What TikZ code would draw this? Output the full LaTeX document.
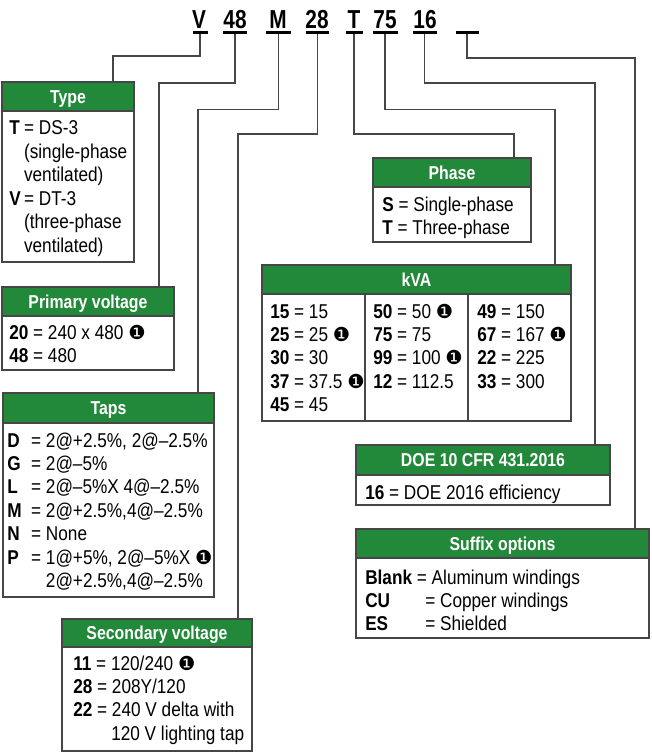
\documentclass[tikz,border=0pt]{standalone}
\usepackage{fontspec}
\setmainfont{Liberation Sans}[FakeStretch=0.86]
\newfontfamily\hdrfont{Liberation Sans}[FakeStretch=0.85]
\newfontfamily\codefont{Liberation Sans}[FakeStretch=0.8]
\newfontfamily\symfont{DejaVu Sans}
\usetikzlibrary{calc}
\definecolor{hdrgreen}{RGB}{34,137,58}
\definecolor{edge}{RGB}{70,70,70}
\def\pxu{0.75pt}
\newcommand\one{{\symfont\fontsize{14.5}{14.5}\selectfont ❶}}
\newcommand\bodyfont{\fontsize{15}{17.6}\selectfont}
\newcommand\mybox[7]{%
  \node[frame, minimum width={(#4-#2)*\pxu}, minimum height={(#5-#3)*\pxu}] (#1) at (#2,#3) {};
  \node[hdr, minimum width={(#4-#2)*\pxu}, minimum height={(#6-#3)*\pxu}] (#1h) at (#2,#3) {#7};
}
\begin{document}
\begin{tikzpicture}[x=0.75pt,y=-0.75pt,
  frame/.style={draw=edge, line width=1pt, fill=white, anchor=north west, inner sep=0, outer sep=0},
  hdr/.style={draw=edge, line width=1pt, fill=hdrgreen, anchor=north west, inner sep=0, outer sep=0,
    text=white, text height=10pt, text depth=0pt, font=\hdrfont\bfseries\fontsize{14}{16}\selectfont},
  body/.style={anchor=base west, inner sep=0, font=\bodyfont},
  code/.style={anchor=base, inner sep=0, font=\codefont\bfseries\fontsize{19.5}{22}\selectfont},
  uline/.style={fill=black, inner sep=0, outer sep=0, minimum height=3*\pxu},
  conn/.style={draw=edge, line width=0.8pt},
  divider/.style={draw=edge, line width=1pt}]
\useasboundingbox (0,0) rectangle (651,752);

% code letters
\node[code] (cV) at (199,28.5) {V};
\node[code] (c48) at (235,28.5) {48};
\node[code] (cM) at (278,28.5) {M};
\node[code] (c28) at (317,28.5) {28};
\node[code] (cT) at (354,28.5) {T};
\node[code] (c75) at (385,28.5) {75};
\node[code] (c16) at (425,28.5) {16};
\node[uline, minimum width=15*\pxu] (uV) at (200,32.5) {};
\node[uline, minimum width=24*\pxu] (u48) at (235,32.5) {};
\node[uline, minimum width=25*\pxu] (uM) at (278.5,32.5) {};
\node[uline, minimum width=23*\pxu] (u28) at (317.5,32.5) {};
\node[uline, minimum width=17*\pxu] (uT) at (354,32.5) {};
\node[uline, minimum width=25*\pxu] (u75) at (385,32.5) {};
\node[uline, minimum width=24*\pxu] (u16) at (424.5,32.5) {};
\node[uline, minimum width=23*\pxu] (uB) at (467,32.5) {};

\coordinate (yA) at (0,56);
\coordinate (yB) at (0,58);
\coordinate (yC) at (0,83);
\coordinate (yD) at (0,109.5);
\coordinate (yE) at (0,134);

% boxes
\mybox{typebox}{2}{82}{134}{262}{111}{Type}
\mybox{primbox}{2}{287}{174}{370}{316}{Primary voltage}
\mybox{tapsbox}{3}{393}{214}{597}{423}{Taps}
\mybox{secbox}{62}{619}{252}{751}{647}{Secondary voltage}
\mybox{phasebox}{373}{158}{531}{242}{187}{Phase}
\mybox{kvabox}{262}{265}{571}{421}{294}{kVA}
\mybox{doebox}{356}{445}{610}{505}{475}{DOE 10 CFR 431.2016}
\mybox{sufbox}{356}{529}{649}{638}{558}{Suffix options}

\draw[divider] ($(kvaboxh.south west)+(103,0)$) -- ($(kvabox.south west)+(103,0)$);
\draw[divider] ($(kvaboxh.south west)+(206,0)$) -- ($(kvabox.south west)+(206,0)$);

% connectors
\draw[conn] (uV.south) -- (uV.south |- yA) -| ($(typebox.north west)+(111,0)$);
\draw[conn] (u48.south) -- (u48.south |- yC) -| ($(primbox.north west)+(157,0)$);
\draw[conn] (uM.south) -- (uM.south |- yD) -| ($(tapsbox.north west)+(195,0)$);
\draw[conn] (u28.south) -- (u28.south |- yE) -| ($(secbox.north west)+(176,0)$);
\draw[conn] (uT.south) -- (uT.south |- yE) -| ($(phasebox.north west)+(141,0)$);
\draw[conn] (u75.south) -- (u75.south |- yD) -| ($(kvabox.north west)+(293,0)$);
\draw[conn] (u16.south) -- (u16.south |- yC) -| ($(doebox.north west)+(239,0)$);
\draw[conn] (uB.south) -- (uB.south |- yB) -| ($(sufbox.north west)+(279,0)$);

% texts
\node[body] (typetxt) at (9,135) {\begin{tabular}[t]{@{}l@{\hspace{2.5pt}}l@{}}
\textbf{T} & = DS-3\\
 & (single-phase\\
 & ventilated)\\
\textbf{V} & = DT-3\\
 & (three-phase\\
 & ventilated)
\end{tabular}};
\node[body] (primtxt) at (9,339) {\begin{tabular}[t]{@{}l@{}}
\textbf{20} = 240 x 480 \one\\
\textbf{48} = 480
\end{tabular}};
\node[body] (tapstxt) at (7,447) {\begin{tabular}[t]{@{}l@{\ \ }l@{}}
\textbf{D} & = 2@+2.5\%, 2@–2.5\%\\
\textbf{G} & = 2@–5\%\\
\textbf{L} & = 2@–5\%X 4@–2.5\%\\
\textbf{M} & = 2@+2.5\%,4@–2.5\%\\
\textbf{N} & = None\\
\textbf{P} & = 1@+5\%, 2@–5\%X \one\\
 & \phantom{= }2@+2.5\%,4@–2.5\%
\end{tabular}};
\node[body] (sectxt) at (73,670) {\begin{tabular}[t]{@{}l@{}}
\textbf{11} = 120/240 \one\\
\textbf{28} = 208Y/120\\
\textbf{22} = 240 V delta with\\
\hspace*{28.5pt}120 V lighting tap
\end{tabular}};
\node[body] (phasetxt) at (382,211) {\begin{tabular}[t]{@{}l@{}}
\textbf{S} = Single-phase\\
\textbf{T} = Three-phase
\end{tabular}};
\node[body] (kvaA) at (270,318) {\begin{tabular}[t]{@{}l@{}}
\textbf{15} = 15\\
\textbf{25} = 25 \one\\
\textbf{30} = 30\\
\textbf{37} = 37.5 \one\\
\textbf{45} = 45
\end{tabular}};
\node[body] (kvaB) at (373,318) {\begin{tabular}[t]{@{}l@{}}
\textbf{50} = 50 \one\\
\textbf{75} = 75\\
\textbf{99} = 100 \one\\
\textbf{12} = 112.5
\end{tabular}};
\node[body] (kvaC) at (477,318) {\begin{tabular}[t]{@{}l@{}}
\textbf{49} = 150\\
\textbf{67} = 167 \one\\
\textbf{22} = 225\\
\textbf{33} = 300
\end{tabular}};
\node[body] (doetxt) at (365,499) {\textbf{16} = DOE 2016 efficiency};
\node[body] (suftxt) at (365,584) {\begin{tabular}[t]{@{}l@{}}
\textbf{Blank} = Aluminum windings\\
\makebox[45pt][l]{\textbf{CU}}= Copper windings\\
\makebox[45pt][l]{\textbf{ES}}= Shielded
\end{tabular}};
\end{tikzpicture}
\end{document}
